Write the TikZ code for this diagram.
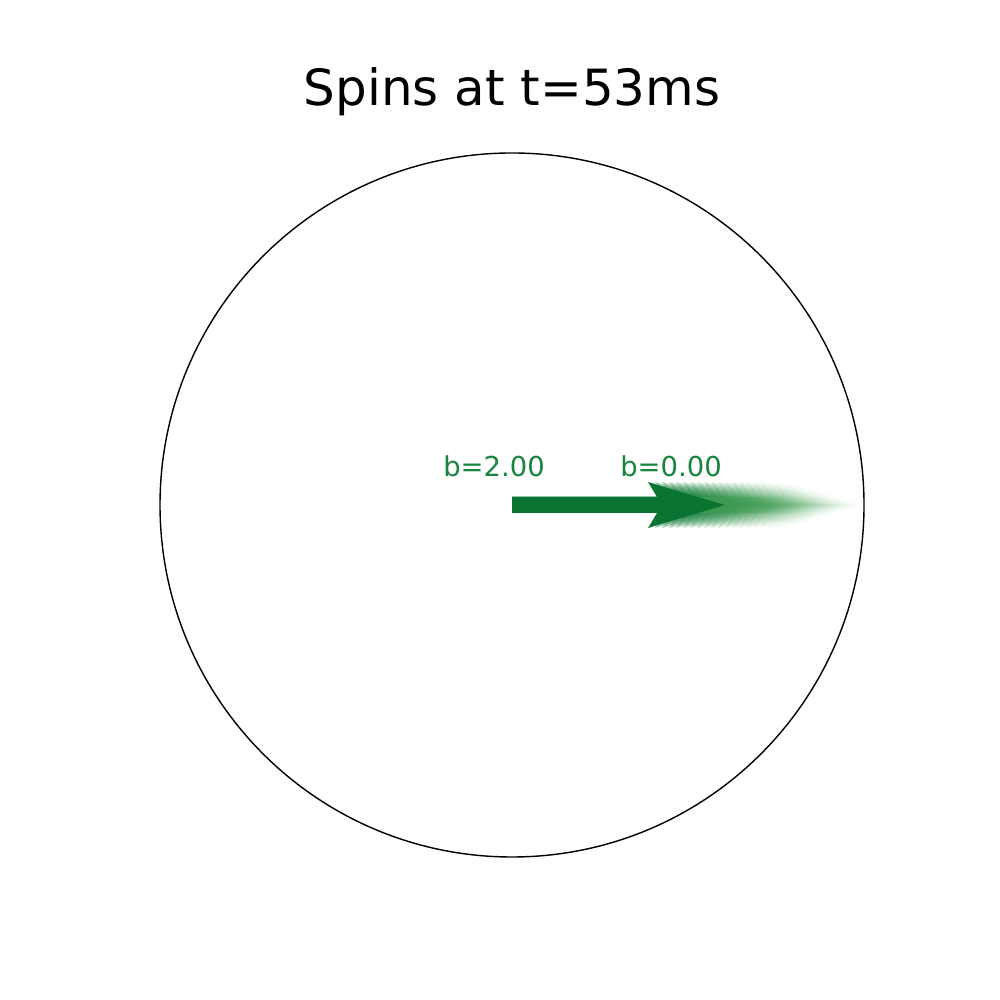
\documentclass[tikz,border=0pt]{standalone}
\usepackage{fontspec}
\setmainfont{DejaVu Sans}
\definecolor{spin}{HTML}{0A7533}
\definecolor{spinlt}{HTML}{74C476}
\definecolor{spintx}{HTML}{17843F}
\def\R{3.52}
\def\cx{5.12}
\def\cy{4.95}
\tikzset{
  spinlabel/.style={spintx,font=\fontsize{7.8}{9}\selectfont,anchor=base},
}
% one spin arrow from the origin, tip at (#1,0), opacity #2, colour #3
\newcommand{\spinarrow}[3]{%
  \fill[#3,fill opacity=#2] (0,-0.08) -- ({#1-0.68},-0.08) -- ({#1-0.77},-0.23)
    -- (#1,0) -- ({#1-0.77},0.23) -- ({#1-0.68},0.08) -- (0,0.08) -- cycle;}

\begin{document}
\begin{tikzpicture}
\useasboundingbox (0,0) rectangle (10,10);

% ---------------------------------------------------------------- title
\node[font=\fontsize{14.2}{17}\selectfont,anchor=base] (title) at (\cx,8.94) {Spins at t=53ms};

% ---------------------------------------------------------------- unit circle
\draw[black,line width=0.4pt] (\cx,\cy) circle (\R);

% ---------------------------------------------------------------- spins: fading trail first, current spin on top
\begin{scope}[shift={(\cx,\cy)}]
  \foreach \t [evaluate=\t as \tip using 2.13+\t*0.07,
               evaluate=\t as \op using 0.4*(1-\t/21),
               evaluate=\t as \mix using int(100-4*\t)] in {1,...,20}
    {\spinarrow{\tip}{\op}{spin!\mix!spinlt}}
  \spinarrow{2.13}{1}{spin}
\end{scope}

% ---------------------------------------------------------------- labels
\node[spinlabel] (bstart) at (4.94,5.23) {b=2.00};
\node[spinlabel] (bend) at (6.71,5.23) {b=0.00};

\end{tikzpicture}
\end{document}
